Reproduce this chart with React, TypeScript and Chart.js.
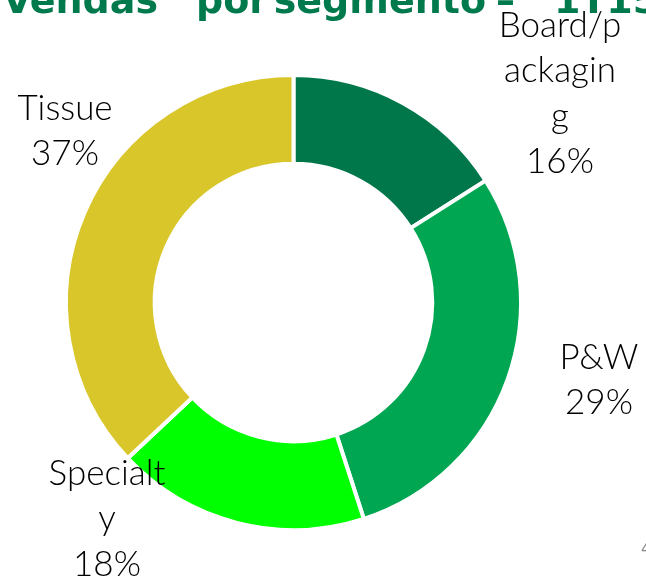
import React, { useEffect, useRef } from "react";
import { Chart, registerables } from "chart.js";

Chart.register(...registerables);

const segments = ["Board/packaging", "P&W", "Specialty", "Tissue"];
const shares = [16, 29, 18, 37];
const labelLines = [
  ["Board/p", "ackagin", "g", "16%"],
  ["P&W", "29%"],
  ["Specialt", "y", "18%"],
  ["Tissue", "37%"],
];
const colors = ["#00774A", "#00A651", "#00FF00", "#D9C62A"];
const titleWords = ["Vendas", "por", "segmento", "–", "1T15"];

// title word anchors: [x, align]
const titleWordPos: [number, CanvasTextAlign][] = [
  [158, "right"],
  [196, "left"],
  [486, "right"],
  [496, "left"],
  [554, "left"],
];

// label anchor (center x, first baseline y) per segment
const labelPos = [
  [560, 37],
  [599, 369],
  [107, 485],
  [65, 120],
];
const lineGap = 45.3;

const labelPlugin = {
  id: "segLabels",
  afterDraw(chart: any) {
    const ctx = chart.ctx;
    ctx.save();
    // title (cropped at top of the page)
    ctx.fillStyle = "#007A4D";
    ctx.font = "bold 38px 'DejaVu Sans'";
    ctx.textBaseline = "alphabetic";
    titleWords.forEach((w, i) => {
      ctx.textAlign = titleWordPos[i][1];
      ctx.fillText(w, titleWordPos[i][0], 13);
    });

    ctx.fillStyle = "#000000";
    ctx.font = "300 35px Lato";
    ctx.textAlign = "center";
    labelLines.forEach((lines, i) => {
      const [x, y] = labelPos[i];
      lines.forEach((t, j) => {
        ctx.fillText(t, x, y + j * lineGap);
      });
    });

    ctx.fillStyle = "#888888";
    ctx.font = "16px 'DejaVu Sans'";
    ctx.textAlign = "left";
    ctx.fillText("4", 641, 554);
    ctx.restore();
  },
};

export default function App() {
  const ref = useRef<HTMLCanvasElement | null>(null);
  useEffect(() => {
    document.body.style.margin = "0";
    const chart = new Chart(ref.current as HTMLCanvasElement, {
      type: "doughnut",
      data: {
        labels: segments,
        datasets: [
          {
            data: shares,
            backgroundColor: colors,
            borderColor: "#ffffff",
            borderWidth: 4,
          },
        ],
      },
      options: {
        animation: false,
        responsive: false,
        cutout: "61%",
        layout: { padding: { left: 64, right: 123, top: 73, bottom: 46 } },
        plugins: { legend: { display: false }, tooltip: { enabled: false }, title: { display: false } },
      },
      plugins: [labelPlugin],
    });
    return () => chart.destroy();
  }, []);
  return (
    <div style={{ width: 646, height: 578, position: "relative", background: "#fff" }}>
      <canvas ref={ref} width={646} height={578} style={{ display: "block" }} />
    </div>
  );
}
